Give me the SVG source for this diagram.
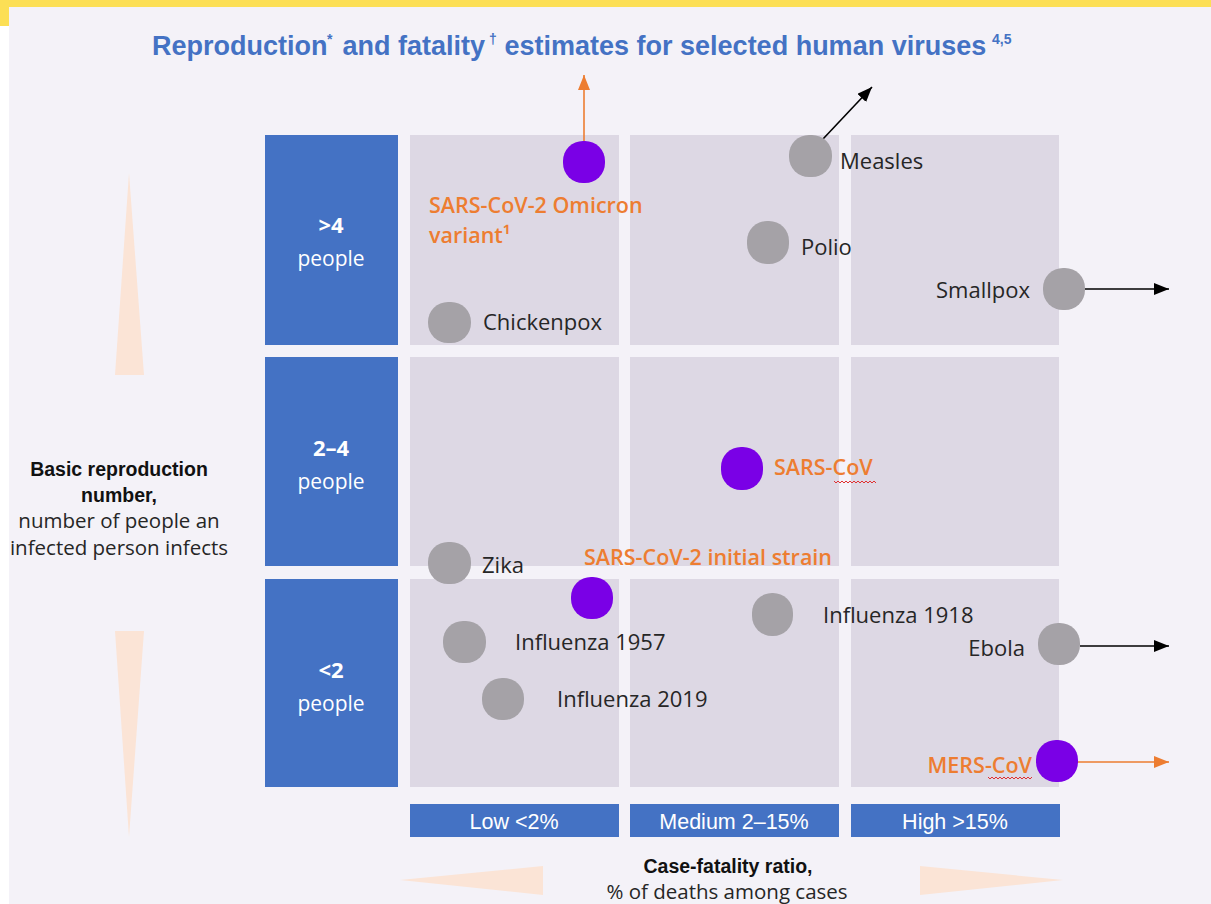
<svg xmlns="http://www.w3.org/2000/svg" width="1211" height="904" viewBox="0 0 1211 904">
<defs>
<style>
.bg{fill:#F4F2F8}
.cell{fill:#DDD8E4}
.blue{fill:#4472C4}
.peach{fill:#FBE4D6}
.gray{fill:#A5A2A7}
.purple{fill:#7A00E6}
.lbl{font-family:"Open Sans","DejaVu Sans",sans-serif;font-size:22px;fill:#262626}
.org{font-family:"Open Sans","DejaVu Sans",sans-serif;font-size:21.5px;font-weight:600;fill:#ED7D31}
.rowb{font-family:"Open Sans","DejaVu Sans",sans-serif;font-size:22px;font-weight:700;fill:#FFFFFF;text-anchor:middle}
.rowp{font-family:"Open Sans","DejaVu Sans",sans-serif;font-size:21px;fill:#FFFFFF;text-anchor:middle}
.colt{font-family:"Liberation Sans",Arial,sans-serif;font-size:21.5px;fill:#FFFFFF;text-anchor:middle}
.axb{font-family:"Liberation Sans",Arial,sans-serif;font-size:19.5px;font-weight:700;fill:#111111;text-anchor:middle}
.axn{font-family:"Open Sans","DejaVu Sans",sans-serif;font-size:20.5px;fill:#262626;text-anchor:middle}
.title{font-family:"Liberation Sans",Arial,sans-serif;font-size:27px;font-weight:700;fill:#4472C4}
.sup{font-size:14px}
.ln{fill:none;stroke:#000;stroke-width:1.6}
.lo{fill:none;stroke:#ED7D31;stroke-width:1.6}
.sq{fill:none;stroke:#E03030;stroke-width:1}
</style>
<marker id="ahk" viewBox="0 0 15 12" refX="15" refY="6" markerWidth="15" markerHeight="12" markerUnits="userSpaceOnUse" orient="auto"><path d="M0,0 L15,6 L0,12 z" fill="#000"/></marker>
<marker id="aho" viewBox="0 0 15 12" refX="15" refY="6" markerWidth="15" markerHeight="12" markerUnits="userSpaceOnUse" orient="auto"><path d="M0,0 L15,6 L0,12 z" fill="#ED7D31"/></marker>
</defs>

<rect x="0" y="0" width="1211" height="904" fill="#FFFFFF"/>
<rect class="bg" x="9" y="7" width="1202" height="897"/>
<rect x="0" y="0" width="1211" height="7" fill="#FCDF55"/>
<rect x="0" y="0" width="9" height="26" fill="#FCDF55"/>

<text class="title" x="152" y="55"><tspan x="152">Reproduction</tspan><tspan class="sup" x="327" dy="-11">*</tspan><tspan x="335" dy="11"> and fatality</tspan><tspan class="sup" x="489" dy="-11">†</tspan><tspan x="497" dy="11"> estimates for selected human viruses</tspan><tspan class="sup" x="992" dy="-11">4,5</tspan></text>

<g id="axis-y">
<polygon class="peach" points="129,173 144,375 115,375"/>
<polygon class="peach" points="115,631 144,631 129,837"/>
<text class="axb" x="119" y="476">Basic reproduction</text>
<text class="axb" x="119" y="502">number,</text>
<text class="axn" x="119" y="528">number of people an</text>
<text class="axn" x="119" y="555">infected person infects</text>
</g>

<g id="axis-x">
<polygon class="peach" points="400,880 543,866 543,895"/>
<polygon class="peach" points="920,866 1063,880 920,895"/>
<text class="axb" x="728" y="873" font-size="20">Case-fatality ratio,</text>
<text class="axn" x="727" y="899">% of deaths among cases</text>
</g>

<g id="grid">
<rect class="cell" x="410" y="135" width="209" height="210"/>
<rect class="cell" x="630" y="135" width="209" height="210"/>
<rect class="cell" x="851" y="135" width="208" height="210"/>
<rect class="cell" x="410" y="357" width="209" height="209"/>
<rect class="cell" x="630" y="357" width="209" height="209"/>
<rect class="cell" x="851" y="357" width="208" height="209"/>
<rect class="cell" x="410" y="579" width="209" height="208"/>
<rect class="cell" x="630" y="579" width="209" height="208"/>
<rect class="cell" x="851" y="579" width="208" height="208"/>
</g>

<g id="row-high">
<rect class="blue" x="265" y="135" width="133" height="210"/>
<text class="rowb" x="331" y="233">&gt;4</text>
<text class="rowp" x="331" y="266">people</text>
</g>
<g id="row-mid">
<rect class="blue" x="265" y="357" width="133" height="209"/>
<text class="rowb" x="331" y="456">2–4</text>
<text class="rowp" x="331" y="489">people</text>
</g>
<g id="row-low">
<rect class="blue" x="265" y="579" width="133" height="208"/>
<text class="rowb" x="331" y="678">&lt;2</text>
<text class="rowp" x="331" y="711">people</text>
</g>

<g id="col-low">
<rect class="blue" x="410" y="804" width="209" height="33"/>
<text class="colt" x="514" y="829">Low &lt;2%</text>
</g>
<g id="col-medium">
<rect class="blue" x="630" y="804" width="209" height="33"/>
<text class="colt" x="734" y="829">Medium 2–15%</text>
</g>
<g id="col-high">
<rect class="blue" x="851" y="804" width="209" height="33"/>
<text class="colt" x="955" y="829">High &gt;15%</text>
</g>

<g id="connectors">
<path class="lo" d="M584,142 L584,75" marker-end="url(#aho)"/>
<path class="ln" d="M823,139 L872,87" marker-end="url(#ahk)"/>
<path class="ln" d="M1085,289 L1169,289" marker-end="url(#ahk)"/>
<path class="ln" d="M1080,646 L1169,646" marker-end="url(#ahk)"/>
<path class="lo" d="M1078,762 L1169,762" marker-end="url(#aho)"/>
</g>

<g id="omicron">
<rect class="purple" x="563" y="141" width="42" height="42" rx="20"/>
<text class="org" x="429" y="213">SARS-CoV-2 Omicron</text>
<text class="org" x="429" y="243">variant¹</text>
</g>
<g id="measles">
<rect class="gray" x="789" y="135" width="43" height="42" rx="20"/>
<text class="lbl" x="840" y="169">Measles</text>
</g>
<g id="polio">
<rect class="gray" x="747" y="221" width="42" height="43" rx="20"/>
<text class="lbl" x="801" y="255">Polio</text>
</g>
<g id="smallpox">
<rect class="gray" x="1043" y="268" width="42" height="42" rx="20"/>
<text class="lbl" x="1030" y="298" text-anchor="end">Smallpox</text>
</g>
<g id="chickenpox">
<rect class="gray" x="428" y="302" width="43" height="41" rx="20"/>
<text class="lbl" x="483" y="330">Chickenpox</text>
</g>
<g id="sars-cov">
<rect class="purple" x="721" y="447" width="42" height="43" rx="20"/>
<text class="org" x="774" y="475">SARS-CoV</text>
<polyline class="sq" points="834,481 836,483 838,481 840,483 842,481 844,483 846,481 848,483 850,481 852,483 854,481 856,483 858,481 860,483 862,481 864,483 866,481 868,483 870,481 872,483 874,481 876,483"/>
</g>
<g id="zika">
<rect class="gray" x="428" y="542" width="43" height="42" rx="20"/>
<text class="lbl" x="482" y="573">Zika</text>
</g>
<g id="sars-cov-2-initial">
<rect class="purple" x="571" y="577" width="42" height="42" rx="20"/>
<text class="org" x="584" y="565">SARS-CoV-2 initial strain</text>
</g>
<g id="influenza-1957">
<rect class="gray" x="443" y="621" width="43" height="42" rx="20"/>
<text class="lbl" x="515" y="650">Influenza 1957</text>
</g>
<g id="influenza-2019">
<rect class="gray" x="482" y="678" width="42" height="42" rx="20"/>
<text class="lbl" x="557" y="707">Influenza 2019</text>
</g>
<g id="influenza-1918">
<rect class="gray" x="752" y="593" width="41" height="43" rx="20"/>
<text class="lbl" x="823" y="623">Influenza 1918</text>
</g>
<g id="ebola">
<rect class="gray" x="1038" y="623" width="42" height="42" rx="20"/>
<text class="lbl" x="1025" y="656" text-anchor="end">Ebola</text>
</g>
<g id="mers-cov">
<rect class="purple" x="1036" y="740" width="42" height="42" rx="20"/>
<text class="org" x="1032" y="773" text-anchor="end">MERS-CoV</text>
<polyline class="sq" points="988,777 990,779 992,777 994,779 996,777 998,779 1000,777 1002,779 1004,777 1006,779 1008,777 1010,779 1012,777 1014,779 1016,777 1018,779 1020,777 1022,779 1024,777 1026,779 1028,777 1030,779 1032,777"/>
</g>
</svg>
